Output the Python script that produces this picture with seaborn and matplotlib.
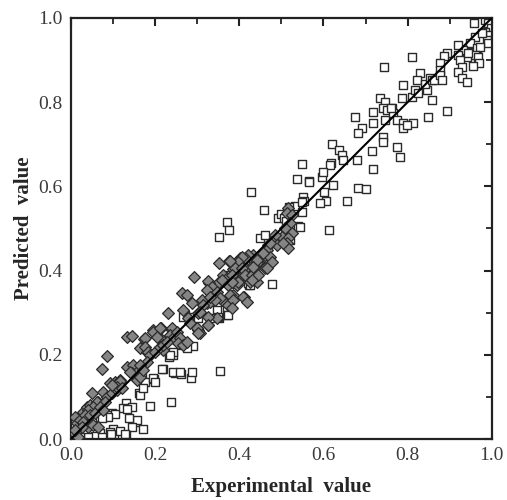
import matplotlib
matplotlib.use("Agg")
import matplotlib.pyplot as plt
import seaborn as sns
import pandas as pd
from matplotlib.ticker import MultipleLocator

# ---- data ----
diamond_x = [0.005,0.017,0.010,0.014,0.021,0.029,0.038,0.045,0.040,0.052,0.064,0.062,0.064,0.050,0.076,0.086,0.097,0.109,
             0.093,0.105,0.116,0.074,0.086,0.133,0.147,0.145,0.157,0.133,0.145,0.173,0.164,0.180,0.195,0.214,0.240,0.216,
             0.219,0.230,0.266,0.264,0.275,0.292,0.352,0.375,0.302,0.306,0.325,0.302,0.323,0.330,0.311,0.287,0.337,0.325,
             0.349,0.328,0.359,0.373,0.385,0.411,0.347,
             0.061,0.053,0.041,0.033,0.045,0.057,0.029,0.026,0.010,0.081,0.069,0.076,0.157,0.140,0.164,0.116,0.109,0.121,0.097,
             0.401,0.425,0.385,0.401,0.416,0.432,0.444,0.325,0.335,0.323,0.361,0.371,0.359,0.373,0.385,0.394,0.401,0.409,
             0.420,0.432,0.442,0.347,0.354,0.342,0.330,0.378,0.385,0.382,0.409,0.418,0.314,0.306,0.325,0.325,0.278,0.283,
             0.299,0.302,0.195,0.211,0.204,0.240,0.235,0.242,0.252,0.259,0.254,0.266,0.276,0.176,0.176,0.183,0.188,0.200,
             0.211,0.219,0.228,0.180,0.164,0.171,
             0.515,0.513,0.525,0.520,0.508,0.525,0.501,0.515,0.513,0.485,0.477,0.489,0.468,0.466,0.461,0.454,0.473,0.477,
             0.444,0.442,0.432,0.420,0.413,0.406,0.397,0.390,0.382,0.378,0.406,0.413,0.430,0.437,0.461,0.444,0.425,0.397,
             0.382,0.515,0.504,0.473,0.456,0.442,0.432,0.466,0.430]
diamond_y = [0.017,0.005,0.052,0.038,0.045,0.064,0.076,0.081,0.029,0.033,0.029,0.076,0.088,0.109,0.112,0.100,0.109,0.116,
             0.133,0.135,0.140,0.166,0.197,0.171,0.176,0.157,0.140,0.242,0.245,0.238,0.216,0.207,0.259,0.264,0.259,0.235,
             0.211,0.299,0.306,0.347,0.342,0.385,0.418,0.423,0.259,0.252,0.271,0.299,0.323,0.325,0.330,0.323,0.354,0.354,
             0.371,0.371,0.330,0.318,0.342,0.337,0.287,
             0.089,0.077,0.069,0.057,0.057,0.062,0.040,0.029,0.021,0.088,0.076,0.069,0.159,0.159,0.147,0.138,0.124,0.121,0.128,
             0.430,0.432,0.404,0.406,0.406,0.413,0.420,0.375,0.361,0.354,0.390,0.382,0.378,0.366,0.373,0.366,0.378,0.390,
             0.382,0.394,0.373,0.349,0.335,0.330,0.337,0.342,0.330,0.311,0.337,0.325,0.318,0.302,0.290,0.271,0.287,0.276,
             0.264,0.252,0.254,0.264,0.242,0.264,0.247,0.240,0.254,0.240,0.228,0.223,0.230,0.240,0.219,0.207,0.200,0.207,
             0.219,0.223,0.230,0.183,0.176,0.164,
             0.549,0.537,0.532,0.513,0.501,0.489,0.480,0.477,0.466,0.485,0.468,0.461,0.461,0.449,0.437,0.430,0.432,0.420,
             0.425,0.418,0.437,0.437,0.430,0.432,0.420,0.406,0.390,0.423,0.406,0.390,0.390,0.406,0.406,0.390,0.373,0.373,
             0.373,0.454,0.466,0.466,0.442,0.425,0.409,0.406,0.378]

square_x = [0.219,0.247,0.261,0.285,0.197,0.169,0.162,0.164,0.188,0.238,0.131,0.145,0.124,0.133,0.097,0.086,0.105,0.088,
            0.069,0.074,0.152,0.157,0.171,0.145,0.131,0.121,0.100,0.093,0.069,0.057,0.074,0.033,0.040,0.021,0.354,0.290,
            0.233,0.242,0.271,0.292,0.352,0.371,0.347,0.423,0.176,0.171,0.195,0.200,0.138,0.117,0.095,0.128,
            0.266,0.290,0.302,0.330,0.349,0.252,0.264,0.276,0.242,0.235,0.406,0.420,0.371,0.373,0.216,0.242,0.259,0.287,
            0.537,0.565,0.596,0.428,0.622,0.601,0.605,0.551,0.553,0.458,0.532,0.549,0.518,0.492,0.499,0.506,0.511,0.539,
            0.544,0.613,0.371,0.375,0.449,0.461,0.508,0.513,0.520,0.477,0.371,0.373,0.425,0.352,
            0.734,0.746,0.786,0.810,0.717,0.741,0.750,0.762,0.765,0.675,0.717,0.746,0.774,0.788,0.788,0.812,0.691,0.682,
            0.741,0.741,0.774,0.781,0.715,0.620,0.637,0.644,0.646,0.679,0.618,0.615,0.599,0.717,0.549,0.565,0.591,0.682,
            0.701,0.656,0.549,
            0.957,0.983,0.990,0.999,0.983,0.995,0.988,0.990,0.960,0.948,0.952,0.964,0.971,0.960,0.967,0.969,0.955,0.941,
            0.931,0.919,0.919,0.924,0.929,0.919,0.929,0.941,0.943,0.976,0.893,0.886,0.876,0.876,0.810,0.829,0.822,0.817,
            0.824,0.846,0.841,0.853,0.857,0.862,0.876,0.881,0.857,0.788,0.893,0.848,0.798,0.760,0.745]
square_y = [0.166,0.157,0.154,0.145,0.142,0.145,0.109,0.104,0.078,0.088,0.086,0.076,0.074,0.071,0.062,0.057,0.059,0.052,
            0.052,0.050,0.040,0.045,0.024,0.029,0.010,0.005,0.024,0.017,0.014,0.007,0.005,0.014,0.005,0.005,0.162,0.221,
            0.195,0.200,0.295,0.290,0.287,0.295,0.306,0.366,0.135,0.121,0.145,0.135,0.050,0.019,0.012,0.012,
            0.290,0.283,0.287,0.287,0.290,0.235,0.223,0.216,0.207,0.200,0.385,0.371,0.314,0.295,0.166,0.159,0.159,0.159,
            0.618,0.613,0.622,0.587,0.603,0.587,0.565,0.575,0.565,0.544,0.553,0.540,0.551,0.526,0.534,0.526,0.517,0.505,
            0.503,0.496,0.515,0.496,0.477,0.485,0.489,0.480,0.473,0.368,0.390,0.378,0.366,0.480,
            0.810,0.800,0.810,0.812,0.777,0.786,0.781,0.786,0.774,0.765,0.751,0.757,0.757,0.751,0.739,0.751,0.739,0.727,
            0.717,0.705,0.694,0.670,0.684,0.701,0.686,0.675,0.663,0.663,0.656,0.651,0.634,0.641,0.653,0.610,0.561,0.596,
            0.594,0.565,0.563,
            0.988,0.995,0.988,0.976,0.967,0.960,0.948,0.941,0.955,0.941,0.919,0.929,0.931,0.912,0.907,0.893,0.886,0.907,
            0.924,0.936,0.912,0.900,0.884,0.872,0.857,0.848,0.917,0.964,0.917,0.910,0.893,0.876,0.907,0.869,0.853,0.830,
            0.822,0.830,0.843,0.857,0.853,0.853,0.864,0.853,0.805,0.840,0.779,0.765,0.746,0.786,0.884]

line_x = [0.0, 1.0]
line_y = [0.0, 1.0]

x_ticks = [0.0, 0.2, 0.4, 0.6, 0.8, 1.0]
x_label = "Experimental  value"
y_label = "Predicted  value"

# ---- plot ----
sns.set_style("white")
plt.rcParams['font.family'] = ['Liberation Serif', 'DejaVu Serif']

fig = plt.figure(figsize=(5.07, 5.00), dpi=100)
ax = fig.add_axes([0.140, 0.122, 0.830, 0.842])

sq = pd.DataFrame({"x": square_x, "y": square_y})
dm = pd.DataFrame({"x": diamond_x, "y": diamond_y})

sns.scatterplot(data=sq, x="x", y="y", marker="s", s=28, facecolor="white",
                edgecolor="#2a2a2a", linewidth=1.0, ax=ax, zorder=2)
sns.scatterplot(data=dm, x="x", y="y", marker="D", s=36, color="#858585",
                edgecolor="#2a2a2a", linewidth=0.9, ax=ax, zorder=3)
sns.lineplot(x=line_x, y=line_y, color="black", linewidth=1.5, ax=ax, zorder=4)

ax.set_xlim(0, 1)
ax.set_ylim(0, 1)
ax.set_xticks(x_ticks)
ax.set_yticks(x_ticks)
ax.set_xticklabels([f"{t:.1f}" for t in x_ticks])
ax.set_yticklabels([f"{t:.1f}" for t in x_ticks])
ax.xaxis.set_minor_locator(MultipleLocator(0.1))
ax.yaxis.set_minor_locator(MultipleLocator(0.1))
ax.tick_params(which="both", direction="in", top=True, right=True, colors="#222222",
               labelcolor="#3a3a3a")
ax.tick_params(which="major", length=6, width=1.5, labelsize=14, pad=6)
ax.tick_params(which="minor", length=4, width=1.3)
for s in ax.spines.values():
    s.set_linewidth(1.6)
    s.set_color("#222222")

ax.set_xlabel(x_label, fontsize=15, fontweight="bold", labelpad=9)
ax.set_ylabel(y_label, fontsize=15, fontweight="bold", labelpad=3)

fig.savefig("out.png", dpi=100)
